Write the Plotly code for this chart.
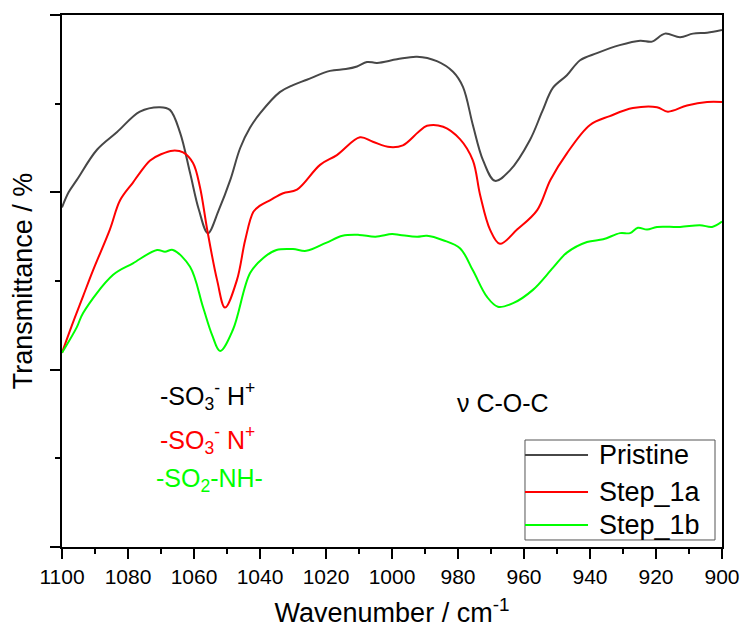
import plotly.graph_objects as go

# FTIR spectra, 1100-900 cm-1 (transmittance in arbitrary offset units)
wn_pristine = [1100, 1098, 1095.5, 1089.4, 1083.3, 1076.4, 1070.3, 1067.3, 1064.2, 1061.2,
               1058.5, 1055.8, 1052.5, 1049, 1046, 1043, 1040, 1034, 1030, 1025.8,
               1018.8, 1014, 1010.6, 1007.6, 1004.5, 998.5, 992.4, 986.4, 981.5, 978.5,
               975.5, 972.4, 968.8, 964.2, 958.2, 954.5, 951.2, 947, 943, 937.9,
               931, 924.8, 921.2, 917.3, 912.7, 908.8, 904.5, 900]
t_pristine = [3.83, 4.00, 4.14, 4.48, 4.68, 4.91, 4.96, 4.93, 4.67, 4.22,
              3.80, 3.54, 3.80, 4.14, 4.50, 4.73, 4.89, 5.13, 5.21, 5.27,
              5.37, 5.39, 5.42, 5.47, 5.46, 5.50, 5.53, 5.48, 5.36, 5.19,
              4.76, 4.36, 4.13, 4.25, 4.59, 4.91, 5.18, 5.32, 5.49, 5.57,
              5.66, 5.71, 5.70, 5.79, 5.75, 5.79, 5.80, 5.83]

wn_step1a = [1100, 1097, 1093.6, 1090.6, 1085.5, 1082.4, 1078.5, 1076.4, 1073.3, 1070,
             1066.4, 1063.3, 1060.3, 1058.2, 1056, 1053, 1050.6, 1047, 1044.5, 1042,
             1040, 1037, 1033, 1028.8, 1021.8, 1016.7, 1009.7, 1005.8, 1000.6, 996.7,
             992, 989.4, 984.5, 979.4, 975.5, 973.3, 970.3, 967.3, 962.1, 956,
             952, 947, 940, 934, 927, 919.7, 916.4, 910.6, 904.5, 900]
t_step1a = [2.19, 2.50, 2.83, 3.12, 3.58, 3.91, 4.11, 4.22, 4.36, 4.43,
            4.47, 4.45, 4.33, 4.06, 3.58, 3.01, 2.70, 3.01, 3.46, 3.78,
            3.85, 3.91, 3.99, 4.03, 4.31, 4.42, 4.62, 4.57, 4.51, 4.53,
            4.68, 4.75, 4.74, 4.60, 4.36, 3.97, 3.58, 3.42, 3.58, 3.80,
            4.14, 4.44, 4.76, 4.86, 4.95, 4.96, 4.91, 4.98, 5.02, 5.02]

wn_step1b = [1100, 1095.5, 1093.6, 1084.5, 1078.5, 1071.2, 1068.8, 1066.4, 1061.2, 1057.3,
             1054.5, 1052.1, 1048.2, 1043, 1039, 1035, 1030, 1026, 1020, 1015,
             1010, 1005, 1000, 997.6, 992.4, 989.4, 984.5, 979.4, 975.5, 971.2,
             967.9, 963.3, 957.3, 951.2, 947, 940.9, 936, 930.9, 927.9, 925.5,
             922.7, 919.7, 912.7, 906.7, 903, 900]
t_step1b = [2.19, 2.48, 2.64, 3.07, 3.20, 3.35, 3.33, 3.35, 3.16, 2.71,
            2.39, 2.21, 2.45, 3.09, 3.26, 3.35, 3.36, 3.34, 3.43, 3.51,
            3.52, 3.50, 3.53, 3.52, 3.50, 3.51, 3.46, 3.37, 3.12, 2.82,
            2.71, 2.75, 2.90, 3.15, 3.32, 3.44, 3.47, 3.54, 3.54, 3.60,
            3.58, 3.61, 3.61, 3.63, 3.61, 3.67]

series = [
    ("Pristine", wn_pristine, t_pristine, "#474747"),
    ("Step_1a", wn_step1a, t_step1a, "#ff0000"),
    ("Step_1b", wn_step1b, t_step1b, "#00ff00"),
]

FONT = "Liberation Sans, Arial, sans-serif"

fig = go.Figure()
for name, x, y, color in series:
    fig.add_trace(go.Scatter(
        x=x, y=y, name=name, mode="lines", showlegend=False,
        line=dict(color=color, width=2, shape="spline", smoothing=1.0),
    ))

# Band assignments
labels = [
    ("-SO<sub>3</sub><sup>-</sup> H<sup>+</sup>", 0.1455, 0.284, "black"),
    ("-SO<sub>3</sub><sup>-</sup> N<sup>+</sup>", 0.1455, 0.201, "#ff0000"),
    ("-SO<sub>2</sub>-NH-", 0.139, 0.126, "#00ff00"),
    ("\u03bd C-O-C", 0.595, 0.271, "black"),
]
for text, px, py, color in labels:
    fig.add_annotation(
        text=text, x=px, y=py, xref="paper", yref="paper",
        xanchor="left", yanchor="middle", showarrow=False,
        font=dict(family=FONT, size=25, color=color),
    )

# Framed legend in the lower-right corner
leg_x0, leg_x1, leg_y0, leg_y1 = 0.7015, 0.9894, 0.0132, 0.2011
line_x1, text_x = 0.797, 0.810
row_y = [0.1729, 0.1034, 0.0414]
fig.add_shape(type="rect", xref="paper", yref="paper",
              x0=leg_x0, x1=leg_x1, y0=leg_y0, y1=leg_y1,
              line=dict(color="#555555", width=1), fillcolor="white", layer="above")
for (name, _, _, color), ry in zip(series, row_y):
    fig.add_shape(type="line", xref="paper", yref="paper",
                  x0=leg_x0, x1=line_x1, y0=ry, y1=ry,
                  line=dict(color=color, width=2), layer="above")
    fig.add_annotation(text=name, x=text_x, y=ry, xref="paper", yref="paper",
                       xanchor="left", yanchor="middle", showarrow=False,
                       font=dict(family=FONT, size=27, color="black"))

fig.update_layout(
    width=744, height=630,
    margin=dict(l=62, r=22, t=15, b=83),
    paper_bgcolor="white", plot_bgcolor="white",
    font=dict(family=FONT, color="black"),
    showlegend=False,
    xaxis=dict(
        range=[1100, 900], dtick=20, tick0=900,
        showline=True, linecolor="black", linewidth=2, mirror=True,
        ticks="outside", ticklen=10, tickwidth=2, tickcolor="black",
        minor=dict(dtick=10, ticks="outside", ticklen=5, tickwidth=2, tickcolor="black"),
        showgrid=False, zeroline=False,
        tickfont=dict(family=FONT, size=21, color="black"),
        title=dict(text="Wavenumber / cm<sup>-1</sup>", font=dict(family=FONT, size=27), standoff=16),
        automargin=False,
    ),
    yaxis=dict(
        range=[0, 6], dtick=2, tick0=0,
        showline=True, linecolor="black", linewidth=2, mirror=True,
        ticks="outside", ticklen=10, tickwidth=2, tickcolor="black",
        minor=dict(dtick=1, ticks="outside", ticklen=5, tickwidth=2, tickcolor="black"),
        showticklabels=False, showgrid=False, zeroline=False,
        title=dict(text="Transmittance / %", font=dict(family=FONT, size=27), standoff=10),
        automargin=False,
    ),
)

fig.write_html("out.html")
